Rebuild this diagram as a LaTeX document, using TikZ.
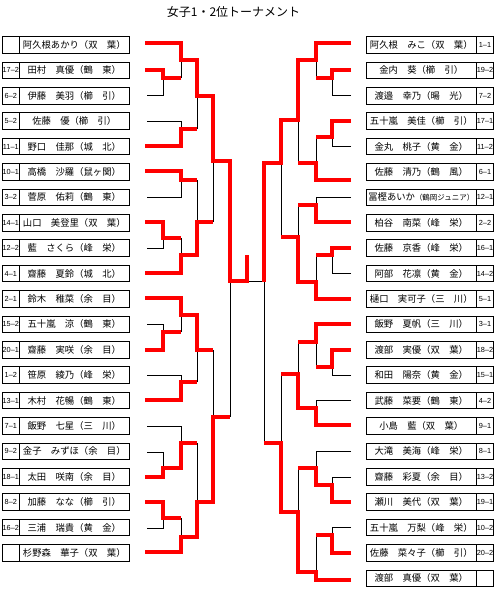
\documentclass[tikz,border=0pt]{standalone}
\usepackage{fontspec}
\newfontfamily\jpfont{Noto Sans CJK JP}
\newfontfamily\numfont{Liberation Sans}
\begin{document}
\begin{tikzpicture}[x=0.75pt,y=-0.75pt,
  namebox/.style={draw, line width=0.75pt, minimum width=82.5pt, minimum height=12.5pt,
    inner sep=0pt, font=\jpfont\fontsize{7}{8}\selectfont},
  numbox/.style={draw, line width=0.75pt, minimum width=12.75pt, minimum height=12.5pt,
    inner sep=0pt, font=\numfont\fontsize{5.5}{6}\selectfont},
  lose/.style={line width=0.75pt},
  win/.style={red, line width=2.5pt}]
  \useasboundingbox (0,0) rectangle (496,590);

  \node[font=\jpfont\fontsize{9}{10}\selectfont] (title) at (233.5,12) {女子1・2位トーナメント};

  % left block
  \foreach \num/\name [count=\i from 0] in {
    {}/阿久根あかり（双　葉）, 17–2/田村　真優（鶴　東）, 6–2/伊藤　美羽（櫛　引）,
    5–2/佐藤　優（櫛　引）, 11–1/野口　佳那（城　北）, 10–1/高橋　沙羅（鼠ヶ関）,
    3–2/菅原　佑莉（鶴　東）, 14–1/山口　美登里（双　葉）, 12–2/藍　さくら（峰　栄）,
    4–1/齋藤　夏鈴（城　北）, 2–1/鈴木　稚菜（余　目）, 15–2/五十嵐　涼（鶴　東）,
    20–1/齋藤　実咲（余　目）, 1–2/笹原　綾乃（峰　栄）, 13–1/木村　花暢（鶴　東）,
    7–1/飯野　七星（三　川）, 9–2/金子　みずほ（余　目）, 18–1/太田　咲南（余　目）,
    8–2/加藤　なな（櫛　引）, 16–2/三浦　瑞貴（黄　金）, {}/杉野森　華子（双　葉）} {
    \node[numbox] (Ln\i) at (10.8,45+25.4*\i) {\num};
    \node[namebox] (L\i) at (74.3,45+25.4*\i) {\name};
  }

  % right block
  \foreach \num/\name [count=\i from 0] in {
    1–1/阿久根　みこ（双　葉）, 19–2/金内　葵（櫛　引）, 7–2/渡邉　幸乃（暘　光）,
    17–1/五十嵐　美佳（櫛　引）, 11–2/金丸　桃子（黄　金）, 6–1/佐藤　清乃（鶴　風）,
    12–1/冨樫あいか{\fontsize{5.6}{6}\selectfont（鶴岡ジュニア）}, 2–2/柏谷　南菜（峰　栄）,
    16–1/佐藤　京香（峰　栄）, 14–2/阿部　花凛（黄　金）, 5–1/樋口　実可子（三　川）,
    3–1/飯野　夏帆（三　川）, 18–2/渡部　実優（双　葉）, 15–1/和田　陽奈（黄　金）,
    4–2/武藤　菜要（鶴　東）, 9–1/小島　藍（双　葉）, 8–1/大滝　美海（峰　栄）,
    13–2/齋藤　彩夏（余　目）, 19–1/瀬川　美代（双　葉）, 10–2/五十嵐　万梨（峰　栄）,
    20–2/佐藤　菜々子（櫛　引）, {}/渡部　真優（双　葉）} {
    \node[namebox] (R\i) at (421.3,45+25.4*\i) {\name};
    \node[numbox] (Rn\i) at (485,45+25.4*\i) {\num};
  }

  % lost matches, left
  \draw[lose] (181,78) -- (181,60);
  \draw[lose] (147,95) -| (163,78);
  \draw[lose] (147,121) -| (181,129);
  \draw[lose] (197,129) -- (197,96);
  \draw[lose] (147,197) -| (181,180);
  \draw[lose] (147,248) -| (163,238);
  \draw[lose] (181,238) -- (181,255);
  \draw[lose] (197,180) -- (197,222);
  \draw[lose] (213,222) -- (213,161);
  \draw[lose] (230,281) -- (230,417);
  \draw[lose] (147,324) -| (163,332);
  \draw[lose] (181,332) -- (181,315);
  \draw[lose] (213,350) -- (213,417);
  \draw[lose] (147,375) -| (181,382);
  \draw[lose] (197,382) -- (197,350);
  \draw[lose] (147,452) -| (163,468);
  \draw[lose] (147,426) -| (181,443);
  \draw[lose] (197,443) -- (197,502);
  \draw[lose] (147,528) -| (163,518);
  \draw[lose] (181,518) -- (181,537);
  % final
  \draw[lose] (247,281.5) -- (264,281.5);
  % lost matches, right
  \draw[lose] (316,78) -- (316,60);
  \draw[lose] (351,95) -| (332,78);
  \draw[lose] (316,137) -- (316,163);
  \draw[lose] (351,146) -| (332,137);
  \draw[lose] (298,163) -- (298,120);
  \draw[lose] (351,197) -| (316,205);
  \draw[lose] (298,205) -- (298,237);
  \draw[lose] (316,255) -- (316,282);
  \draw[lose] (351,273) -| (332,255);
  \draw[lose] (281,237) -- (281,163);
  \draw[lose] (264,282) -- (264,443);
  \draw[lose] (298,342) -- (298,374);
  \draw[lose] (316,367) -- (316,342);
  \draw[lose] (351,375) -| (332,367);
  \draw[lose] (351,400) -| (316,408);
  \draw[lose] (281,374) -- (281,443);
  \draw[lose] (351,451) -| (316,468);
  \draw[lose] (351,477) -| (332,485);
  \draw[lose] (298,468) -- (298,512);
  \draw[lose] (351,527) -| (332,535);
  \draw[lose] (316,535) -- (316,572);

  % winners, left
  \draw[win] (145,43) -| (181,60) -| (197,96) -| (213,161) -| (230,281) -| (247,255);
  \draw[win] (145,70) -| (163,78) -- (181,78);
  \draw[win] (145,146) -| (181,129) -- (197,129);
  \draw[win] (145,171) -| (181,180) -- (197,180);
  \draw[win] (145,222) -| (163,238) -- (181,238);
  \draw[win] (145,273) -| (181,255) -| (197,222) -- (213,222);
  \draw[win] (145,298) -| (181,315) -| (197,350) -- (213,350);
  \draw[win] (145,350) -| (163,332) -- (181,332);
  \draw[win] (145,400) -| (181,382) -- (197,382);
  \draw[win] (145,477) -| (163,468) -| (181,443) -- (197,443);
  \draw[win] (145,502) -| (163,518) -- (181,518);
  \draw[win] (145,552) -| (181,537) -| (197,502) -| (213,417) -- (230,417);
  % winners, right
  \draw[win] (351,43) -| (316,60) -| (298,120) -| (281,163) -| (264,282);
  \draw[win] (351,70) -| (332,78) -- (316,78);
  \draw[win] (351,121) -| (332,137) -- (316,137);
  \draw[win] (351,180) -| (316,163) -- (298,163);
  \draw[win] (351,222) -| (316,205) -- (298,205);
  \draw[win] (351,248) -| (332,255) -- (316,255);
  \draw[win] (351,299) -| (316,282) -| (298,237) -- (281,237);
  \draw[win] (351,324) -| (316,342) -- (298,342);
  \draw[win] (351,350) -| (332,367) -- (316,367);
  \draw[win] (351,425) -| (316,408) -| (298,374) -- (281,374);
  \draw[win] (351,502) -| (332,485) -| (316,468) -- (298,468);
  \draw[win] (351,553) -| (332,535) -- (316,535);
  \draw[win] (351,580) -| (316,572) -| (298,512) -| (281,443) -- (264,443);
\end{tikzpicture}
\end{document}
